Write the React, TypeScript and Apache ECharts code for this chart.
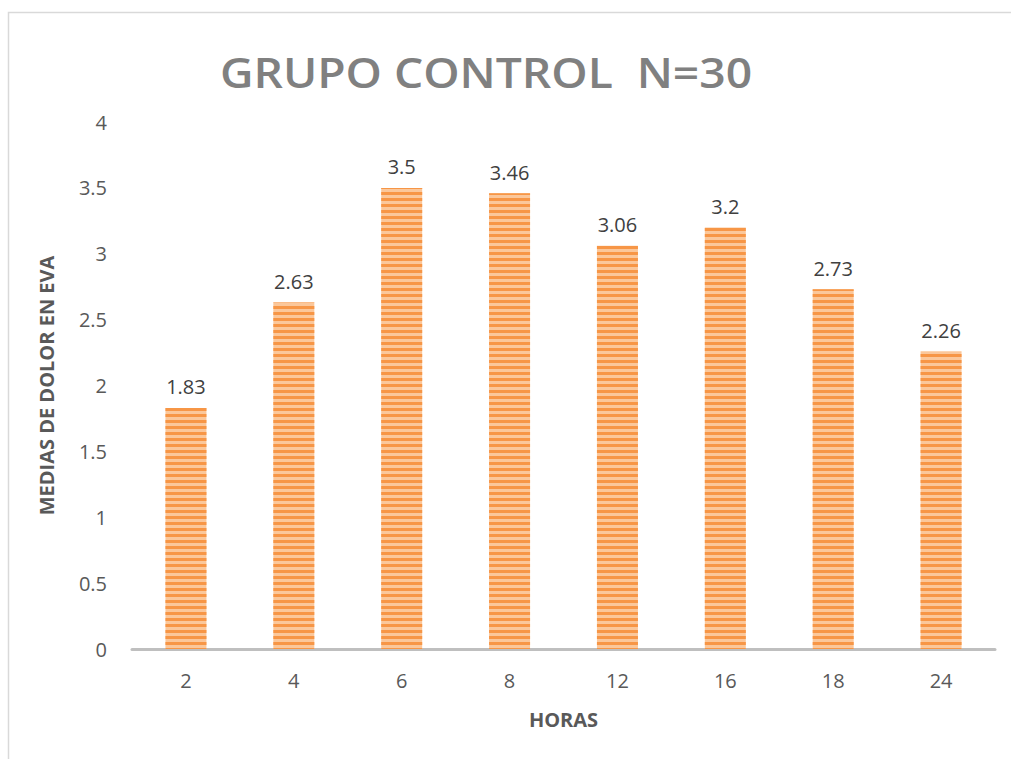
import React, { useEffect, useRef } from "react";
import * as echarts from "echarts";

const horas = ["2", "4", "6", "8", "12", "16", "18", "24"];
const medias = [1.83, 2.63, 3.5, 3.46, 3.06, 3.2, 2.73, 2.26];
const titulo = "GRUPO CONTROL  N=30";
const ejeX = "HORAS";
const ejeY = "MEDIAS DE DOLOR EN EVA";

export default function App() {
  const ref = useRef<HTMLDivElement>(null);

  useEffect(() => {
    if (!ref.current) return;
    const chart = echarts.init(ref.current, null, { renderer: "svg" });
    const font = "'Open Sans', 'Noto Sans', sans-serif";
    chart.setOption({
      animation: false,
      backgroundColor: "#ffffff",
      graphic: [
        {
          type: "rect",
          shape: { x: 8.5, y: 12.5, width: 1020, height: 760 },
          style: { fill: "none", stroke: "#D9D9D9", lineWidth: 1.5 },
          silent: true,
        },
        {
          // wide-tracked chart title
          type: "text",
          x: 486,
          y: 72,
          scaleX: 1.1,
          style: {
            text: titulo,
            fontFamily: font,
            fontSize: 42,
            fontWeight: 600,
            fill: "#808080",
            align: "center",
            verticalAlign: "middle",
          },
          silent: true,
        },
      ],
      grid: { left: 132, right: 16, top: 122, bottom: 110, containLabel: false },
      xAxis: {
        type: "category",
        data: horas,
        name: ejeX,
        nameLocation: "middle",
        nameGap: 60,
        nameTextStyle: { fontFamily: font, fontSize: 20, fontWeight: "bold", color: "#595959" },
        axisLine: { lineStyle: { color: "#BFBFBF", width: 3 } },
        axisTick: { show: false },
        axisLabel: { fontFamily: font, fontSize: 20, color: "#595959", margin: 21 },
      },
      yAxis: {
        type: "value",
        min: 0,
        max: 4,
        interval: 0.5,
        name: ejeY,
        nameLocation: "middle",
        nameGap: 76,
        nameRotate: 90,
        nameTextStyle: { fontFamily: font, fontSize: 20, fontWeight: "bold", color: "#595959" },
        axisLine: { show: false },
        axisTick: { show: false },
        splitLine: { show: false },
        axisLabel: { fontFamily: font, fontSize: 20, color: "#595959", margin: 25 },
      },
      series: [
        {
          type: "bar",
          data: medias,
          barWidth: 41,
          itemStyle: {
            color: "#FBC79A",
            decal: {
              symbol: "rect",
              color: "#F79646",
              dashArrayX: [1, 0],
              dashArrayY: [3, 3],
              rotation: 0,
              symbolSize: 1,
            },
          },
          label: {
            show: true,
            position: "top",
            distance: 11,
            fontFamily: font,
            fontSize: 20,
            color: "#404040",
          },
        },
      ],
    });
    return () => chart.dispose();
  }, []);

  return (
    <div
      ref={ref}
      style={{ position: "absolute", left: 0, top: 0, width: 1011, height: 759 }}
    />
  );
}
